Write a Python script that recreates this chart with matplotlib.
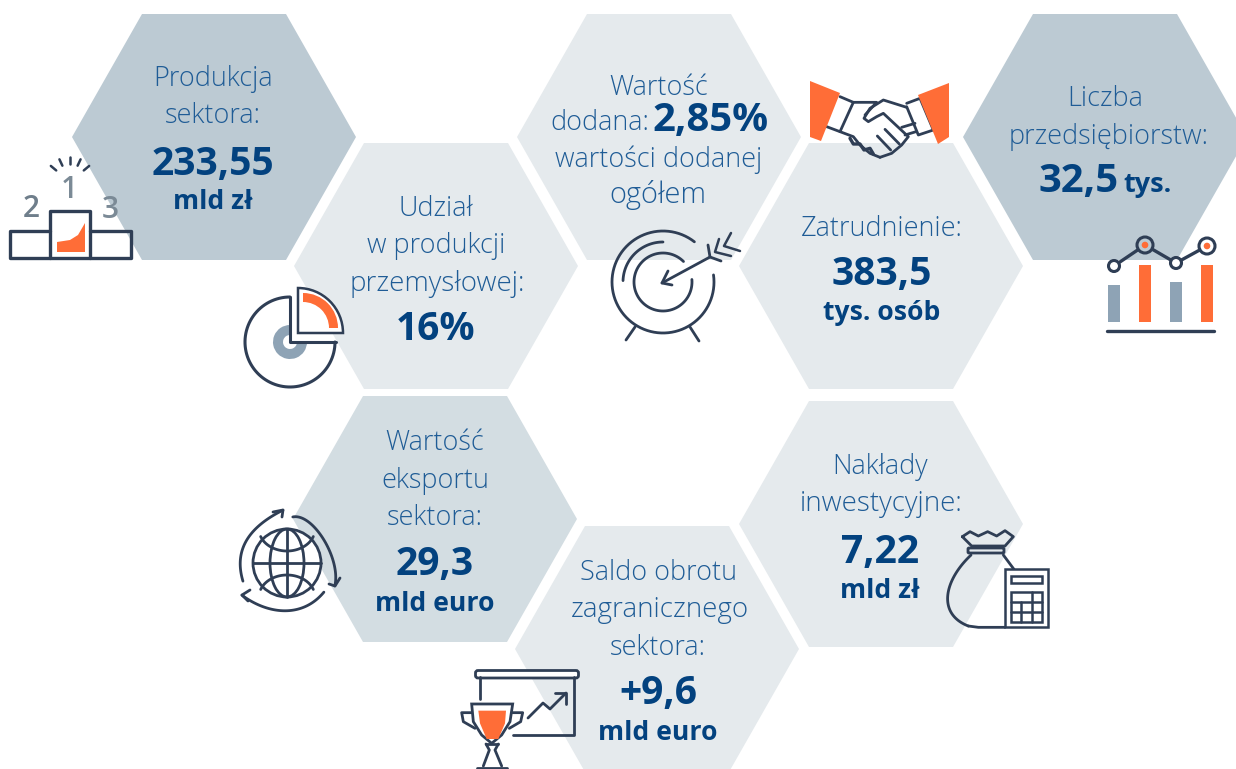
import numpy as np
import matplotlib
matplotlib.use('Agg')
import matplotlib.pyplot as plt
from matplotlib.patches import Polygon, Rectangle, Circle, Wedge, Ellipse, FancyBboxPatch

# Tresc infografiki
tytuly = [
    ['Produkcja', 'sektora:'],
    ['Udział', 'w produkcji', 'przemysłowej:'],
    ['Liczba', 'przedsiębiorstw:'],
    ['Zatrudnienie:'],
    ['Wartość', 'eksportu', 'sektora:'],
    ['Saldo obrotu', 'zagranicznego', 'sektora:'],
    ['Nakłady', 'inwestycyjne:'],
]
wartosci = ['233,55', '16%', '32,5', '383,5', '29,3', '+9,6', '7,22']
jednostki = ['mld zł', '', '', 'tys. osób', 'mld euro', 'mld euro', 'mld zł']

# Ikona z wykresem: wysokosci slupkow i punkty linii
slupki = [37, 57, 40, 57]
linia = [56, 77, 59, 76]

# Kolory
CIEMNY = '#2f3e55'
POMARANCZ = '#ff6d37'
SZARY = '#8ea3b5'
NIEBIESKI = '#1f5c96'
GRANAT = '#03427f'
JASNY = '#e5eaed'
SREDNI = '#bccad3'
POSREDNI = '#d3dde2'

plt.rcParams['font.family'] = ['Open Sans', 'DejaVu Sans']

fig = plt.figure(figsize=(12.36, 7.69), dpi=100)
ax = fig.add_axes([0, 0, 1, 1])
ax.set_xlim(0, 1236)
ax.set_ylim(769, 0)
ax.axis('off')


def heks(x0, y0, kolor):
    # x0, y0 to lewy wierzcholek i gorna krawedz szesciokata
    w = 284
    h = 246
    d = 70
    pkt = [(x0, y0 + h / 2), (x0 + d, y0), (x0 + w - d, y0), (x0 + w, y0 + h / 2),
           (x0 + w - d, y0 + h), (x0 + d, y0 + h)]
    ax.add_patch(Polygon(pkt, closed=True, fc=kolor, ec='none', zorder=1))


def napis(x, y, s, px, bold=False, **kw):
    kolor = GRANAT if bold else NIEBIESKI
    waga = 'bold' if bold else 'light'
    return ax.text(x, y, s, fontsize=px * 0.72, color=kolor, fontweight=waga, ha=kw.pop('ha', 'center'),
                   va='baseline', zorder=5, **kw)


def kreska(xs, ys, lw=2.0, kolor=CIEMNY, z=6):
    ax.plot(xs, ys, color=kolor, lw=lw, solid_capstyle='round', solid_joinstyle='round', zorder=z)


def gladka(xs, ys, lw=2.0, st=3):
    # wygladza krotka linie lamana wielomianem
    t = np.linspace(0, 1, len(xs))
    tt = np.linspace(0, 1, 80)
    kreska(np.polyval(np.polyfit(t, xs, st), tt), np.polyval(np.polyfit(t, ys, st), tt), lw)


def luk(cx, cy, r, a0, a1, lw=2.0, kolor=CIEMNY, ry=None):
    # katy w stopniach, 0 w prawo, 90 do gory
    t = np.radians(np.linspace(a0, a1, 80))
    ry = r if ry is None else ry
    kreska(cx + r * np.cos(t), cy - ry * np.sin(t), lw, kolor)


def zp(ox, oy, pkt):
    return [ox + p[0] / 3 for p in pkt], [oy + p[1] / 3 for p in pkt]


def zk(ox, oy, pkt, lw=2.0):
    xs, ys = zp(ox, oy, pkt)
    kreska(xs, ys, lw)


# Szesciokaty
heks(72, 14, SREDNI)
heks(294, 143, JASNY)
heks(517, 14, JASNY)
heks(739, 143, JASNY)
heks(963, 14, SREDNI)
heks(293, 396, POSREDNI)
heks(515, 526, JASNY)
heks(739, 401, JASNY)

# Napisy
bazy = [[86, 123], [216, 253, 291], [106, 144], [236], [450, 488, 525], [580, 617, 655], [474, 511]]
srodki = [213, 436, 1109, 882, 435, 658, 880]
bazy_w = [175, 340, 192, 285, 575, 704, 563]
bazy_j = [209, 0, 0, 320, 611, 740, 598]
for i in range(len(tytuly)):
    for s, y in zip(tytuly[i], bazy[i]):
        if s == 'Liczba':
            napis(1105, y, s, 27)
        elif s == 'zagranicznego':
            napis(660, y, s, 27.8)
        elif s in ('przemysłowej:', 'inwestycyjne:'):
            napis(srodki[i] + 1, y, s, 27.6)
        else:
            napis(srodki[i], y, s, 27)
    if i == 2:
        napis(1079, bazy_w[i], wartosci[i], 40, bold=True)
        napis(1147, bazy_w[i], 'tys.', 27, bold=True)
        continue
    napis(srodki[i], bazy_w[i], wartosci[i], 39, bold=True)
    if jednostki[i]:
        napis(srodki[i], bazy_j[i], jednostki[i], 26.5, bold=True)

# Wartosc dodana ma napis w jednym wierszu z liczba
napis(659, 95, 'Wartość', 27)
napis(550, 130, 'dodana:', 27, ha='left')
napis(652, 131, '2,85%', 40, bold=True, ha='left')
napis(659, 167, 'wartości dodanej', 27)
napis(658, 203, 'ogółem', 29)

# Ikona podium
ax.add_patch(Polygon([(57, 252), (57, 242), (70, 240), (78, 235), (85, 223), (85, 252)], fc=POMARANCZ, ec='none', zorder=6))
kreska([50, 10, 10, 131, 131, 90], [231, 231, 258, 258, 231, 231], 2.4)
kreska([50, 50, 90, 90], [258, 211, 211, 258], 2.4)
ax.text(69, 198, '1', fontsize=21.5, color='#7b8a96', fontweight=600, ha='center', va='baseline', zorder=6)
ax.text(31, 217, '2', fontsize=21.5, color='#6f7e8b', fontweight=600, ha='center', va='baseline', zorder=6)
ax.text(110, 218, '3', fontsize=21.5, color='#7b8a96', fontweight=600, ha='center', va='baseline', zorder=6)
for a in (40, 65, 90, 115, 140):
    t = np.radians(a)
    kreska([70 + 18 * np.cos(t), 70 + 25 * np.cos(t)], [182 - 18 * np.sin(t), 182 - 25 * np.sin(t)], 1.8)

# Ikona kolowa (os y jest odwrocona, wiec katy klinow tez)
ax.add_patch(Wedge((290, 342), 45, 0, 270, fc='white', ec='none', zorder=2))
ax.add_patch(Wedge((290, 342), 17, 0, 270, width=10, fc=SZARY, ec='none', zorder=3))
luk(290, 342, 45, 90, 360, 2.2)
kreska([290, 290, 336], [297, 342, 342], 2.2)
ax.add_patch(Wedge((298, 333), 45, 270, 360, fc='white', ec=CIEMNY, lw=1.8, zorder=5))
ax.add_patch(Wedge((303, 328), 35, 270, 360, width=9, fc=POMARANCZ, ec='none', zorder=6))

# Ikona tarczy
luk(663, 282, 51, 52, 360 + 8, 2.0)
luk(663, 282, 40, 90, 178, 2.0)
luk(663, 282, 29, 45, 365, 2.0)
kreska([635, 626], [327, 340], 2.0)
kreska([690, 699], [327, 341], 2.0)
kreska([662, 710], [283, 257], 2.0)
kreska([672, 662, 668], [285, 283, 271], 2.0)
kreska([708, 710, 721], [245, 257, 261], 2.0)
kreska([719, 715, 731], [239, 252, 256], 1.8)
kreska([731, 724, 740], [233, 246, 251], 1.8)

# Ikona uscisku dloni
ax.add_patch(Polygon([(810, 81), (840, 93), (821, 141), (810, 137)], fc=POMARANCZ, ec='none', zorder=7))
ax.add_patch(Polygon([(918, 95), (949, 83), (949, 137), (938, 144)], fc=POMARANCZ, ec='none', zorder=7))
o = (590, 70)
zk(*o, [(750, 80), (790, 97), (750, 185), (710, 170)])
zk(*o, [(790, 97), (860, 97), (825, 135)])
zk(*o, [(950, 112), (880, 90), (840, 115), (822, 145), (835, 155), (860, 140), (880, 130), (955, 200), (935, 225), (905, 250), (870, 262)])
zk(*o, [(950, 100), (990, 85), (1030, 180), (985, 195), (950, 110)])
zk(*o, [(750, 185), (790, 200), (810, 225), (840, 250), (870, 262)])
zk(*o, [(780, 205), (790, 222), (810, 222), (822, 240), (840, 235), (850, 252)], 2.4)
zk(*o, [(862, 198), (902, 240)])
zk(*o, [(885, 178), (928, 222)])
zk(*o, [(935, 172), (975, 160)])
zk(*o, [(945, 195), (978, 185)])

# Ikona slupki i linia
xs_s = [1108, 1139, 1170, 1201]
kol_s = [SZARY, POMARANCZ, SZARY, POMARANCZ]
for i in range(4):
    ax.add_patch(Rectangle((xs_s[i], 322 - slupki[i]), 12, slupki[i], fc=kol_s[i], ec='none', zorder=6))
kreska([1107, 1214], [331, 331], 2.4)
xs_l = [1114, 1145, 1176, 1207]
ys_l = [322 - v for v in linia]
kreska(xs_l, ys_l, 2.4, z=6)
for i in range(4):
    r = 5.5 if i % 2 == 0 else 8
    tlo = SREDNI if i == 1 else 'white'
    ax.add_patch(Circle((xs_l[i], ys_l[i]), r, fc=tlo, ec=CIEMNY, lw=2.2, zorder=7))
    if i % 2 == 1:
        ax.add_patch(Circle((xs_l[i], ys_l[i]), 3.3, fc=POMARANCZ, ec='none', zorder=8))

# Ikona globusa
cx, cy = 287, 563
ax.add_patch(Circle((cx, cy), 34, fc='white', ec=CIEMNY, lw=2.0, zorder=6))
ax.add_patch(Ellipse((cx, cy), 34, 68, fc='none', ec=CIEMNY, lw=2.0, zorder=6))
kreska([cx, cx], [cy - 34, cy + 34], 2.0)
kreska([cx - 34, cx + 34], [cy, cy], 2.0)
luk(cx, cy - 34, 28, 200, 340, 2.0, ry=22)
luk(cx, cy + 34, 28, 20, 160, 2.0, ry=22)
gladka([243, 240, 245, 258, 283], [581, 563, 543, 527, 510])
kreska([273, 283, 282], [512, 510, 517], 2.0)
gladka([293, 308, 325, 333, 335], [517, 522, 540, 563, 586])
kreska([329, 335, 340], [584, 586, 578], 2.0)
gladka([324, 305, 285, 262, 242], [592, 607, 610, 607, 595])
kreska([250, 242, 248], [590, 595, 601], 2.0)

# Ikona pucharu i tablicy
ax.add_patch(FancyBboxPatch((478, 673), 98, 2.5, boxstyle='round,pad=2.5', fc='white', ec=CIEMNY, lw=2.0, zorder=6))
kreska([480, 480], [677, 699], 2.0)
kreska([574, 574, 513], [677, 735, 735], 2.0)
kreska([528, 543, 550, 566], [718, 703, 709, 693], 2.0)
kreska([555, 566, 566], [693, 693, 704], 2.0)
o = (450, 660)
x_p, y_p = zp(*o, [(65, 132), (188, 132), (180, 185), (155, 225), (125, 250), (95, 225), (70, 185)])
ax.add_patch(Polygon(list(zip(x_p, y_p)), fc='white', ec=CIEMNY, lw=2.0, zorder=6))
x_p, y_p = zp(*o, [(85, 152), (168, 152), (165, 190), (145, 237), (110, 237), (90, 190)])
ax.add_patch(Polygon(list(zip(x_p, y_p)), fc=POMARANCZ, ec='none', zorder=7))
zk(*o, [(65, 158), (35, 158), (40, 185), (75, 205)])
zk(*o, [(188, 158), (218, 158), (212, 185), (178, 205)])
zk(*o, [(108, 252), (118, 270), (100, 318)])
zk(*o, [(145, 252), (135, 270), (155, 318)])
zk(*o, [(108, 252), (145, 252)])
zk(*o, [(80, 325), (172, 325)])

# Ikona worka i kalkulatora
o = (935, 520)
zk(*o, [(82, 50), (105, 35), (130, 48), (158, 35), (185, 48), (210, 32), (235, 50), (210, 78), (110, 78), (82, 50)])
ax.add_patch(FancyBboxPatch((969, 549), 34, 3, boxstyle='round,pad=1', fc='none', ec=CIEMNY, lw=2.0, zorder=6))
x_w, y_w = zp(*o, [(108, 105), (60, 165), (38, 225), (50, 280), (100, 318)])
gladka(x_w, y_w)
zk(*o, [(100, 318), (130, 322), (210, 322)])
zk(*o, [(205, 105), (237, 148)])
ax.add_patch(Rectangle((1005, 569), 43, 58, fc='white', ec=CIEMNY, lw=1.8, zorder=6))
ax.add_patch(Rectangle((1011, 576), 31, 7, fc='none', ec=CIEMNY, lw=1.8, zorder=7))
ax.add_patch(Rectangle((1011, 592), 31, 30, fc='none', ec=CIEMNY, lw=1.8, zorder=7))
kreska([1011, 1042], [602, 602], 1.8, z=7)
kreska([1011, 1042], [612, 612], 1.8, z=7)
kreska([1021, 1021], [602, 622], 1.8, z=7)
kreska([1032, 1032], [592, 622], 1.8, z=7)

fig.savefig('out.png', dpi=100, facecolor='white')
